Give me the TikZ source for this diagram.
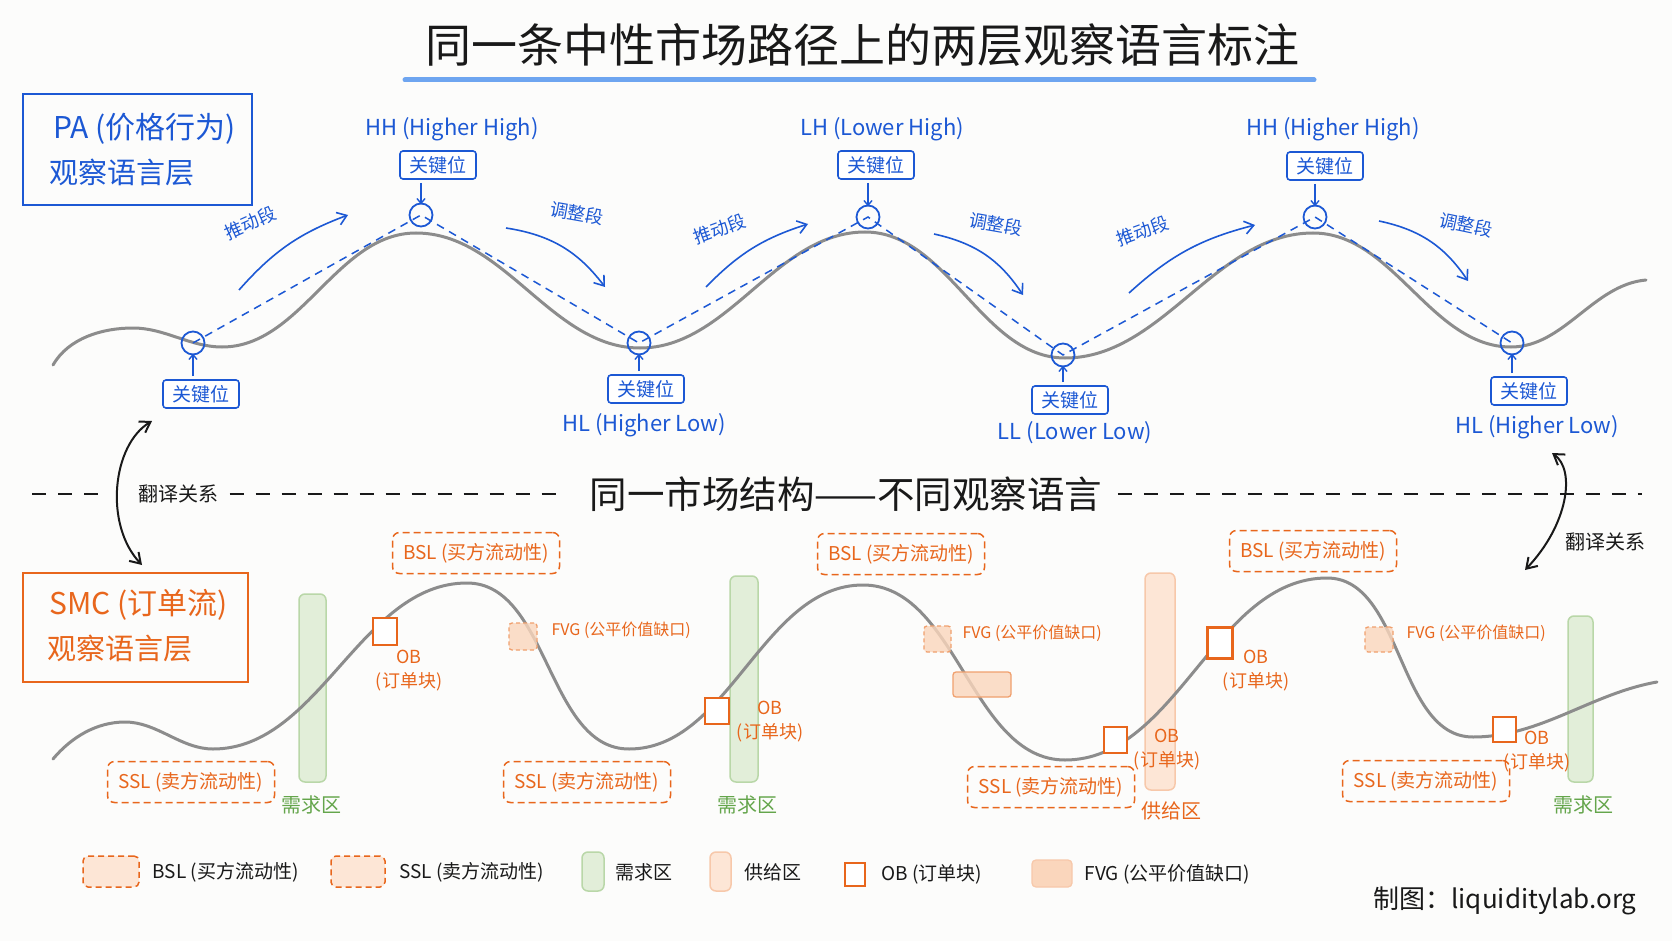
\documentclass[tikz,border=0pt]{standalone}
\usepackage{fontspec}
\setmainfont{Noto Sans CJK SC}
\usetikzlibrary{arrows.meta}
\definecolor{bgc}{RGB}{252,252,251}
\definecolor{bl}{RGB}{28,88,212}
\definecolor{blL}{RGB}{110,165,240}
\definecolor{orc}{RGB}{232,102,28}
\definecolor{orL}{RGB}{240,160,110}
\definecolor{fvgF}{RGB}{250,214,188}
\definecolor{supF}{RGB}{253,230,214}
\definecolor{supD}{RGB}{247,200,170}
\definecolor{grT}{RGB}{100,165,75}
\definecolor{grF}{RGB}{226,238,217}
\definecolor{grD}{RGB}{185,215,168}
\definecolor{wv}{RGB}{140,140,140}
\definecolor{ink}{RGB}{25,25,25}
\begin{document}
\begin{tikzpicture}[x=1pt,y=-1pt,
  fs/.style={font={\fontsize{#1pt}{#1pt}\selectfont}},
  wave/.style={draw=wv, line width=3pt, line cap=round},
  keybox/.style={draw=bl, line width=1.6pt, rounded corners=3pt, text=bl, fill=white, minimum width=76pt, minimum height=28pt, inner sep=0pt, fs=19},
  kc/.style={circle, draw=bl, line width=1.8pt, minimum size=23pt, inner sep=0pt},
  pathd/.style={draw=bl, line width=1.5pt, dash pattern=on 8pt off 6pt},
  segarr/.style={draw=bl, line width=1.6pt, -{Straight Barb[length=9pt,width=13pt]}},
  karr/.style={draw=bl, line width=1.4pt, -{Straight Barb[length=5pt,width=8pt]}},
  trarr/.style={draw=ink, line width=2pt, {Straight Barb[length=10pt,width=13pt]}-{Straight Barb[length=10pt,width=13pt]}},
  divider/.style={draw=ink, line width=2.2pt, dash pattern=on 14pt off 12pt},
  hlab/.style={text=bl, fs=22},
  seglab/.style={text=bl, fs=18, inner sep=1pt},
  liqbox/.style={draw=orc, line width=1.5pt, dash pattern=on 7pt off 4pt, rounded corners=7pt, text=orc, minimum width=167pt, minimum height=41pt, inner sep=0pt, fs=19},
  fvgbox/.style={draw=orL, fill=fvgF, fill opacity=0.8, line width=1.3pt, dash pattern=on 4pt off 3pt, rounded corners=3pt, inner sep=0pt},
  obbox/.style={draw=orc, line width=2.6pt, fill=white, inner sep=0pt},
  oblab/.style={text=orc, align=center, font={\fontsize{18pt}{24pt}\selectfont}},
  fvglab/.style={text=orc, anchor=west, fs=16},
  demand/.style={draw=grD, fill=grF, line width=1.5pt, rounded corners=6pt, inner sep=0pt},
  supply/.style={draw=supD, fill=supF, line width=1.5pt, rounded corners=6pt, inner sep=0pt},
  legtxt/.style={text=ink, anchor=west, fs=19}
]
\fill[bgc] (0,0) rectangle (1672,941);
\useasboundingbox (0,0) rectangle (1672,941);

% ---------- title ----------
\node[text=ink, fs=46] (title) at (862,45) {同一条中性市场路径上的两层观察语言标注};
\coordinate (ulA) at (405,80);
\coordinate (ulB) at (1314,80);
\draw[blL, line width=5pt, line cap=round] (ulA) -- (ulB);

% ---------- PA box ----------
\node[draw=bl, line width=2.6pt, minimum width=229pt, minimum height=111pt, inner sep=0pt] (paBox) at (137.5,149.5) {};
\node[text=bl, anchor=west, fs=30] (paT1) at (50,129) {PA (价格行为)};
\node[text=bl, anchor=west, fs=29] (paT2) at (46,173) {观察语言层};

% ---------- top wave ----------
\draw[wave, looseness=0.9] (53,365) to[out=60,in=180] (133,328) to[out=0,in=180] (222,347)
  to[out=0,in=180] (416,233) to[out=0,in=180] (640,348) to[out=0,in=180] (865,232)
  to[out=0,in=180] (1065,358) to[out=0,in=180] (1313,233) to[out=0,in=180] (1511,347)
  to[out=0,in=185] (1646,280);

% key circles
\node[kc] (c1) at (193,343) {};
\node[kc] (c2) at (421,215) {};
\node[kc] (c3) at (639,343) {};
\node[kc] (c4) at (868,217) {};
\node[kc] (c5) at (1063,355) {};
\node[kc] (c6) at (1315,217) {};
\node[kc] (c7) at (1512,343) {};
\draw[pathd] (c1.center) -- (c2.center) -- (c3.center) -- (c4.center) -- (c5.center) -- (c6.center) -- (c7.center);

% key boxes
\node[keybox] (k1) at (201,394) {关键位};
\node[keybox] (k2) at (438,165) {关键位};
\node[keybox] (k3) at (646,389) {关键位};
\node[keybox] (k4) at (876,165) {关键位};
\node[keybox] (k5) at (1070,400) {关键位};
\node[keybox] (k6) at (1325,166) {关键位};
\node[keybox] (k7) at (1529,391) {关键位};
\draw[karr] ([yshift=3pt]c1 |- k1.north) -- ([yshift=2pt]c1.south);
\draw[karr] ([yshift=-3pt]c2 |- k2.south) -- ([yshift=-2pt]c2.north);
\draw[karr] ([yshift=3pt]c3 |- k3.north) -- ([yshift=2pt]c3.south);
\draw[karr] ([yshift=-3pt]c4 |- k4.south) -- ([yshift=-2pt]c4.north);
\draw[karr] ([yshift=3pt]c5 |- k5.north) -- ([yshift=2pt]c5.south);
\draw[karr] ([yshift=-3pt]c6 |- k6.south) -- ([yshift=-2pt]c6.north);
\draw[karr] ([yshift=3pt]c7 |- k7.north) -- ([yshift=2pt]c7.south);

% level labels
\node[hlab] (l2) at (452,129) {HH (Higher High)};
\node[hlab] (l4) at (882,129) {LH (Lower High)};
\node[hlab] (l6) at (1333,129) {HH (Higher High)};
\node[hlab] (l3) at (644,425) {HL (Higher Low)};
\node[hlab] (l5) at (1075,433) {LL (Lower Low)};
\node[hlab] (l7) at (1537,427) {HL (Higher Low)};

% segment arrows
\coordinate (a1s) at (239,290); \coordinate (a1e) at (348,215);
\coordinate (a2s) at (506,228); \coordinate (a2e) at (605,287);
\coordinate (a3s) at (706,287); \coordinate (a3e) at (808,224);
\coordinate (a4s) at (934,234); \coordinate (a4e) at (1023,295);
\coordinate (a5s) at (1129,293); \coordinate (a5e) at (1255,225);
\coordinate (a6s) at (1379,221); \coordinate (a6e) at (1468,281);
\draw[segarr] (a1s) to[bend left=14] (a1e);
\draw[segarr] (a2s) to[bend left=22] (a2e);
\draw[segarr] (a3s) to[bend left=14] (a3e);
\draw[segarr] (a4s) to[bend left=22] (a4e);
\draw[segarr] (a5s) to[bend left=14] (a5e);
\draw[segarr] (a6s) to[bend left=22] (a6e);
\node[seglab, rotate=24] (s1) at (250,223) {推动段};
\node[seglab, rotate=-10] (s2) at (577,213) {调整段};
\node[seglab, rotate=20] (s3) at (720,229) {推动段};
\node[seglab, rotate=-10] (s4) at (996,224) {调整段};
\node[seglab, rotate=20] (s5) at (1143,231) {推动段};
\node[seglab, rotate=-12] (s6) at (1466,225) {调整段};

% ---------- divider ----------
\node[text=ink, fs=37.5] (midt) at (846,494) {同一市场结构——不同观察语言};
\node[text=ink, fs=20] (trL) at (178,494) {翻译关系};
\node[text=ink, fs=20] (trR) at (1605,542) {翻译关系};
\coordinate (dv0) at (32,494);
\coordinate (dv1) at (101,494);
\coordinate (dv2) at (1642,494);
\draw[divider] (dv0) -- (dv1);
\draw[divider, shorten <=8pt, shorten >=30pt] (trL.east) -- (midt.west);
\draw[divider, shorten <=12pt] (midt.east) -- (dv2);
\coordinate (tlA) at (152,421); \coordinate (tlB) at (142,565);
\coordinate (trA) at (1552,453); \coordinate (trB) at (1525,570);
\draw[trarr] (tlA) .. controls (112,445) and (104,525) .. (tlB);
\draw[trarr] (trA) .. controls (1576,470) and (1568,525) .. (trB);

% ---------- SMC box ----------
\node[draw=orc, line width=2.6pt, minimum width=225pt, minimum height=109pt, inner sep=0pt] (smcBox) at (135.5,627.5) {};
\node[text=orc, anchor=west, fs=30] (smT1) at (46,605) {SMC (订单流)};
\node[text=orc, anchor=west, fs=29] (smT2) at (44,649) {观察语言层};

% ---------- zones ----------
\node[demand, minimum width=27pt, minimum height=188pt] (z1) at (312.5,688) {};
\node[demand, minimum width=28pt, minimum height=206pt] (z2) at (744,679) {};
\node[demand, minimum width=25pt, minimum height=166pt] (z3) at (1580.5,699) {};
\node[supply, minimum width=30pt, minimum height=217pt] (su1) at (1160,681.5) {};
\node[text=grT, fs=20] (zl1) at (311,805) {需求区};
\node[text=grT, fs=20] (zl2) at (747,805) {需求区};
\node[text=grT, fs=20] (zl3) at (1583,805) {需求区};
\node[text=orc, fs=20] (sul1) at (1171,811) {供给区};

% ---------- bottom wave ----------
\draw[wave, looseness=0.9] (53,759) to[out=50,in=180] (125,722) to[out=0,in=180] (213,749)
  to[out=0,in=180] (467,583) to[out=0,in=180] (629,749) to[out=0,in=180] (863,585)
  to[out=0,in=180] (1065,760) to[out=0,in=180] (1327,578) to[out=0,in=180] (1473,737)
  to[out=0,in=190] (1657,682);

% FVG boxes
\node[fvgbox, minimum width=28pt, minimum height=27pt] (f1) at (523,636.5) {};
\node[fvgbox, minimum width=27pt, minimum height=26pt] (f2) at (937.5,639) {};
\node[fvgbox, minimum width=28pt, minimum height=25pt] (f3) at (1379,639.5) {};
\node[fvgbox, solid, minimum width=58pt, minimum height=25pt] (f4) at (982,684.5) {};
\node[fvglab] (fl1) at (548,630) {FVG (公平价值缺口)};
\node[fvglab] (fl2) at (959,633) {FVG (公平价值缺口)};
\node[fvglab] (fl3) at (1403,633) {FVG (公平价值缺口)};

% OB boxes
\node[obbox, minimum width=24pt, minimum height=27pt] (o1) at (385,631.5) {};
\node[obbox, minimum width=24pt, minimum height=26pt] (o2) at (717,711) {};
\node[obbox, minimum width=23pt, minimum height=26pt] (o3) at (1115.5,740) {};
\node[obbox, minimum width=25pt, minimum height=31pt] (o4) at (1220,643) {};
\node[obbox, minimum width=23pt, minimum height=25pt] (o5) at (1504.5,729.5) {};
\node[oblab] (ol1) at (409,671) {OB\\(订单块)};
\node[oblab] (ol2) at (770,722) {OB\\(订单块)};
\node[oblab] (ol3) at (1167,750) {OB\\(订单块)};
\node[oblab] (ol4) at (1256,671) {OB\\(订单块)};
\node[oblab] (ol5) at (1537,752) {OB\\(订单块)};

% liquidity boxes
\node[liqbox] (b1) at (476,553) {BSL (买方流动性)};
\node[liqbox] (b2) at (901,554) {BSL (买方流动性)};
\node[liqbox] (b3) at (1313,551) {BSL (买方流动性)};
\node[liqbox] (q1) at (191,782) {SSL (卖方流动性)};
\node[liqbox] (q2) at (587,782) {SSL (卖方流动性)};
\node[liqbox] (q3) at (1051,787) {SSL (卖方流动性)};
\node[liqbox] (q4) at (1426,781) {SSL (卖方流动性)};

% ---------- legend ----------
\node[draw=orc, fill=supF, line width=1.5pt, dash pattern=on 6pt off 4pt, rounded corners=5pt, minimum width=56pt, minimum height=31pt, inner sep=0pt] (lgB) at (111,871.5) {};
\node[legtxt] (lgBt) at (149,872) {BSL (买方流动性)};
\node[draw=orc, fill=supF, line width=1.5pt, dash pattern=on 6pt off 4pt, rounded corners=5pt, minimum width=54pt, minimum height=31pt, inner sep=0pt] (lgS) at (358,871.5) {};
\node[legtxt] (lgSt) at (396,872) {SSL (卖方流动性)};
\node[demand, minimum width=22pt, minimum height=39pt] (lgD) at (593,871.5) {};
\node[legtxt] (lgDt) at (612,872) {需求区};
\node[supply, minimum width=21pt, minimum height=39pt] (lgU) at (720.5,871.5) {};
\node[legtxt] (lgUt) at (741,872) {供给区};
\node[obbox, line width=2.4pt, minimum width=20pt, minimum height=23pt] (lgO) at (855,874.5) {};
\node[legtxt] (lgOt) at (878,874) {OB (订单块)};
\node[draw=supD, fill=fvgF, line width=1.3pt, rounded corners=4pt, minimum width=40pt, minimum height=27pt, inner sep=0pt] (lgF) at (1052,873.5) {};
\node[legtxt] (lgFt) at (1081,874) {FVG (公平价值缺口)};

% credit
\node[text=ink, fs=26] (credit) at (1505,901) {制图：liquiditylab.org};
\end{tikzpicture}
\end{document}
